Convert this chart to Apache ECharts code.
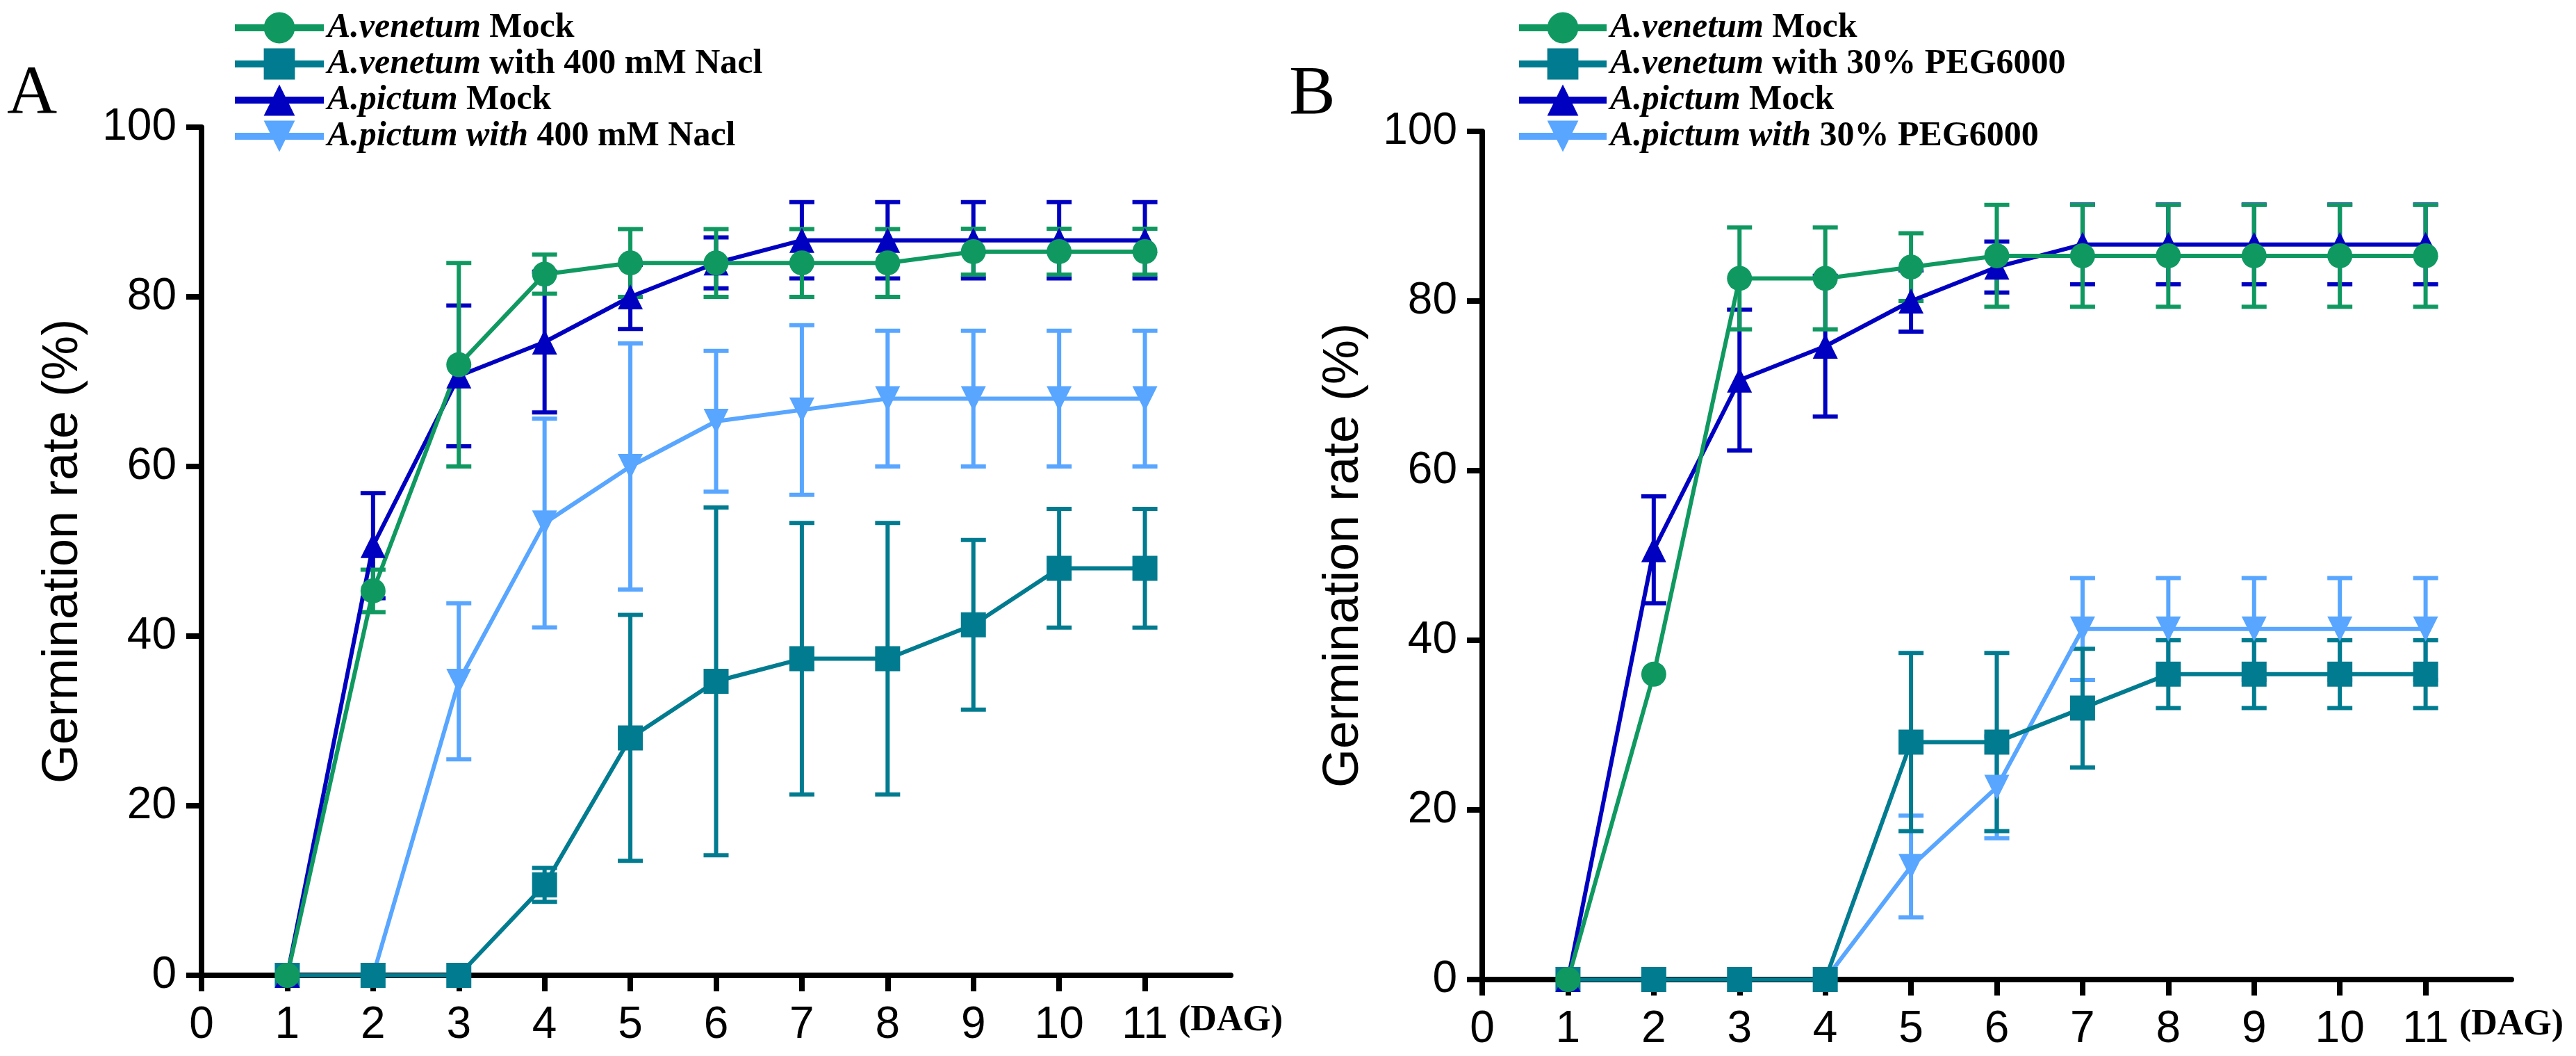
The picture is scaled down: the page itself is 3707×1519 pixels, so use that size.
<!DOCTYPE html>
<html>
<head>
<meta charset="utf-8">
<script src="https://cdn.jsdelivr.net/npm/echarts@6/dist/echarts.min.js"></script>
<style>
  html, body { margin: 0; padding: 0; background: #fff; }
  #main { width: 3707px; height: 1519px; }
</style>
</head>
<body>
<div id="main"></div>
<script>
// days after germination
const days = [1, 2, 3, 4, 5, 6, 7, 8, 9, 10, 11];
const xTickValues = [0, 1, 2, 3, 4, 5, 6, 7, 8, 9, 10, 11];
const xLabelValues = [0, 1, 2, 3, 4, 5, 6, 7, 8, 9, 10, 11, 12];

// A: 400 mM NaCl  (mean / error)
const venMockA = [0, 45.33, 72, 82.67, 84, 84, 84, 84, 85.33, 85.33, 85.33];
const venMockAErr = [0, 2.5, 12, 2.3, 4, 4, 4, 4, 2.7, 2.7, 2.7];
const venSaltA = [0, 0, 0, 10.67, 28, 34.67, 37.33, 37.33, 41.33, 48, 48];
const venSaltAErr = [0, 0, 0, 2, 14.5, 20.5, 16, 16, 10, 7, 7];
const picMockA = [0, 50.67, 70.67, 74.67, 80, 84, 86.67, 86.67, 86.67, 86.67, 86.67];
const picMockAErr = [0, 6.2, 8.3, 8.3, 3.8, 3, 4.5, 4.5, 4.5, 4.5, 4.5];
const picSaltA = [0, 0, 34.67, 53.33, 60, 65.33, 66.67, 68, 68, 68, 68];
const picSaltAErr = [0, 0, 9.2, 12.3, 14.5, 8.3, 10, 8, 8, 8, 8];

// B: 30% PEG6000
const venMockB = [0, 36, 82.67, 82.67, 84, 85.33, 85.33, 85.33, 85.33, 85.33, 85.33];
const venMockBErr = [0, 0, 6, 6, 4, 6, 6, 6, 6, 6, 6];
const venPegB = [0, 0, 0, 0, 28, 28, 32, 36, 36, 36, 36];
const venPegBErr = [0, 0, 0, 0, 10.5, 10.5, 7, 4, 4, 4, 4];
const picMockB = [0, 50.67, 70.67, 74.67, 80, 84, 86.67, 86.67, 86.67, 86.67, 86.67];
const picMockBErr = [0, 6.3, 8.3, 8.3, 3.6, 3, 4.7, 4.7, 4.7, 4.7, 4.7];
const picPegB = [0, 0, 0, 0, 13.33, 22.67, 41.33, 41.33, 41.33, 41.33, 41.33];
const picPegBErr = [0, 0, 0, 0, 6, 6, 6, 6, 6, 6, 6];

const GREEN = '#0f9960', TEAL = '#007b8f', BLUE = '#0000c0', LIGHT = '#58a6ff';

const chart = echarts.init(document.getElementById('main'));

// line + error bar pair for one group
function makeSeries(name, mean, err, color, symbol, rotate, idx) {
  const errData = [];
  days.forEach((d, i) => {
    if (err[i] > 0) errData.push([d, mean[i] - err[i], mean[i] + err[i]]);
  });
  return [{
    type: 'custom',
    xAxisIndex: idx, yAxisIndex: idx,
    data: errData,
    encode: { x: 0, y: [1, 2] },
    silent: true,
    renderItem(params, api) {
      const top = api.coord([api.value(0), api.value(2)]);
      const bot = api.coord([api.value(0), api.value(1)]);
      const half = 18;
      const style = { stroke: color, lineWidth: 6 };
      return {
        type: 'group',
        children: [
          { type: 'line', shape: { x1: top[0], y1: top[1], x2: bot[0], y2: bot[1] }, style },
          { type: 'line', shape: { x1: top[0] - half, y1: top[1], x2: top[0] + half, y2: top[1] }, style },
          { type: 'line', shape: { x1: bot[0] - half, y1: bot[1], x2: bot[0] + half, y2: bot[1] }, style }
        ]
      };
    }
  }, {
    name: name,
    type: 'line',
    xAxisIndex: idx, yAxisIndex: idx,
    data: days.map((d, i) => [d, mean[i]]),
    symbol: symbol,
    symbolSize: 36,
    symbolRotate: rotate,
    showAllSymbol: true,
    lineStyle: { color: color, width: 6 },
    itemStyle: { color: color, opacity: 1 }
  }];
}

const legendFormatter = function (name) {
  const map = {
    'A.venetum Mock': '{i|A.venetum }{n|Mock}',
    'A.venetum with 400 mM Nacl': '{i|A.venetum }{n|with 400 mM Nacl}',
    'A.pictum Mock': '{i|A.pictum }{n|Mock}',
    'A.pictum with 400 mM Nacl': '{i|A.pictum with }{n|400 mM Nacl}',
    'A.venetum with 30% PEG6000': '{i|A.venetum }{n|with 30% PEG6000}',
    'A.pictum with 30% PEG6000': '{i|A.pictum with }{n|30% PEG6000}'
  };
  return map[name] || name;
};
const legendText = {
  color: '#000',
  rich: {
    i: { fontFamily: 'Liberation Serif', fontStyle: 'italic', fontWeight: 'bold', fontSize: 50, color: '#000' },
    n: { fontFamily: 'Liberation Serif', fontWeight: 'bold', fontSize: 50, color: '#000' }
  }
};

function xAxis(idx) {
  return {
    type: 'value', gridIndex: idx, min: 0, max: 12, interval: 1,
    axisLine: { onZero: false, lineStyle: { color: '#000', width: 8 } },
    axisTick: { length: 23, lineStyle: { color: '#000', width: 8 }, customValues: xTickValues },
    axisLabel: {
      customValues: xLabelValues,
      margin: 40,
      color: '#000',
      fontFamily: 'Liberation Sans',
      fontSize: 64,
      formatter: v => v === 12 ? '{d|(DAG)}' : String(v),
      rich: { d: { fontFamily: 'Liberation Serif', fontWeight: 'bold', fontSize: 52, color: '#000' } }
    },
    splitLine: { show: false }
  };
}
function yAxis(idx) {
  return {
    type: 'value', gridIndex: idx, min: 0, max: 100, interval: 20,
    name: 'Germination rate (%)',
    nameLocation: 'middle',
    nameGap: 163,
    nameTextStyle: { fontFamily: 'Liberation Sans', fontSize: 72, color: '#000' },
    axisLine: { show: true, lineStyle: { color: '#000', width: 8 } },
    axisTick: { show: true, length: 22, lineStyle: { color: '#000', width: 8 } },
    axisLabel: { margin: 36, color: '#000', fontFamily: 'Liberation Sans', fontSize: 64 },
    splitLine: { show: false }
  };
}

chart.setOption({
  animation: false,
  backgroundColor: '#fff',
  title: [
    { text: 'A', left: 5, top: 82, textStyle: { fontFamily: 'Liberation Serif', fontWeight: 'normal', fontSize: 100, color: '#000' } },
    { text: 'B', left: 1850, top: 82, textStyle: { fontFamily: 'Liberation Serif', fontWeight: 'normal', fontSize: 100, color: '#000' } }
  ],
  legend: [{
    left: 328, top: 10, orient: 'vertical',
    itemWidth: 128, itemHeight: 56, itemGap: 2,
    lineStyle: { width: 10 },
    data: ['A.venetum Mock', 'A.venetum with 400 mM Nacl', 'A.pictum Mock', 'A.pictum with 400 mM Nacl'],
    formatter: legendFormatter, textStyle: legendText
  }, {
    left: 2176, top: 10, orient: 'vertical',
    itemWidth: 126, itemHeight: 56, itemGap: 2,
    lineStyle: { width: 10 },
    data: ['A.venetum Mock', 'A.venetum with 30% PEG6000', 'A.pictum Mock', 'A.pictum with 30% PEG6000'],
    formatter: legendFormatter, textStyle: legendText
  }],
  grid: [
    { left: 290, top: 183, width: 1481, height: 1220 },
    { left: 2133, top: 189, width: 1481, height: 1220 }
  ],
  xAxis: [xAxis(0), xAxis(1)],
  yAxis: [yAxis(0), yAxis(1)],
  series: [].concat(
    makeSeries('A.pictum with 400 mM Nacl', picSaltA, picSaltAErr, LIGHT, 'triangle', 180, 0),
    makeSeries('A.venetum with 400 mM Nacl', venSaltA, venSaltAErr, TEAL, 'rect', 0, 0),
    makeSeries('A.pictum Mock', picMockA, picMockAErr, BLUE, 'triangle', 0, 0),
    makeSeries('A.venetum Mock', venMockA, venMockAErr, GREEN, 'circle', 0, 0),
    makeSeries('A.pictum with 30% PEG6000', picPegB, picPegBErr, LIGHT, 'triangle', 180, 1),
    makeSeries('A.venetum with 30% PEG6000', venPegB, venPegBErr, TEAL, 'rect', 0, 1),
    makeSeries('A.pictum Mock', picMockB, picMockBErr, BLUE, 'triangle', 0, 1),
    makeSeries('A.venetum Mock', venMockB, venMockBErr, GREEN, 'circle', 0, 1)
  )
});
</script>
</body>
</html>
